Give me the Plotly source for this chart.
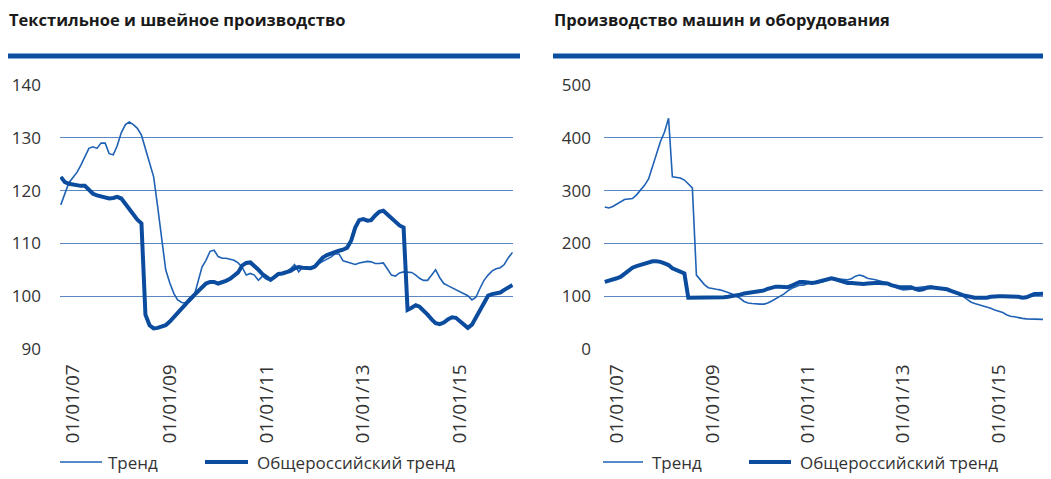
import pandas as pd
import plotly.graph_objects as go

dates = pd.date_range("2006-10-01", periods=113, freq="MS")

textile_trend = [
    117.3, 119.5, 121.5, 122.5, 123.5, 124.8, 126.5, 128.0, 128.3, 128.0,
    129.0, 129.0, 127.0, 126.8, 128.5, 131.0, 132.5, 133.0, 132.5, 131.8,
    130.5, 128.0, 125.0, 122.6, 117.0, 110.5, 105.0, 102.5, 100.5, 99.3,
    98.8, 98.7, 99.0, 99.8, 102.5, 105.5, 106.8, 108.5, 108.7, 107.5,
    107.2, 107.2, 107.0, 106.8, 106.3, 105.5, 104.0, 104.3, 104.0, 103.0,
    103.8, 103.2, 103.0, 103.8, 104.2, 104.4, 104.6, 105.2, 106.0, 104.6,
    105.5, 105.4, 105.3, 105.5, 106.2, 106.6, 107.0, 107.4, 108.0, 108.0,
    106.7, 106.5, 106.2, 106.0, 106.3, 106.5, 106.6, 106.5, 106.2, 106.2,
    106.3, 105.2, 104.0, 103.8, 104.4, 104.6, 104.6, 104.5, 104.0, 103.4,
    103.0, 103.0, 104.0, 105.0, 103.5, 102.4, 102.0, 101.6, 101.2, 100.8,
    100.4, 100.1, 99.3, 99.8, 101.5, 103.0, 104.0, 104.8, 105.2, 105.4,
    106.0, 107.3, 108.3,
]
textile_russia = [
    122.6, 121.6, 121.3, 121.1, 121.0, 120.9, 120.9, 120.2, 119.4, 119.1,
    118.9, 118.6, 118.5, 118.6, 118.8, 118.5, 117.5, 116.3, 115.3, 114.5,
    113.8, 96.5, 94.5, 93.9, 94.0, 94.3, 94.5, 95.2, 96.0, 96.8,
    97.6, 98.5, 99.4, 100.2, 101.0, 101.8, 102.4, 102.7, 102.7, 102.4,
    102.6, 102.9, 103.3, 103.8, 104.5, 105.8, 106.3, 106.4, 105.8, 105.0,
    104.2, 103.6, 103.1, 103.6, 104.2, 104.3, 104.5, 104.8, 105.3, 105.5,
    105.4, 105.3, 105.3, 105.6, 106.6, 107.3, 107.8, 108.1, 108.5, 108.6,
    108.8, 109.2, 110.5, 113.0, 114.4, 114.6, 114.3, 114.4, 115.3, 116.0,
    116.2, 115.5, 114.8, 114.2, 113.4, 113.0, 97.4, 97.8, 98.3, 98.0,
    97.3, 96.5, 95.6, 94.9, 94.7, 95.0, 95.6, 96.0, 95.9, 95.2,
    94.5, 94.0, 94.6, 96.0, 97.4, 99.0, 100.1, 100.4, 100.5, 100.7,
    101.2, 101.7, 102.1,
]
machine_trend = [
    269, 267, 270, 275, 280, 283, 284, 285, 292, 300,
    310, 322, 345, 370, 393, 411, 437, 326, 325, 324,
    320, 313, 305, 140, 130, 122, 116, 114, 113, 112,
    110, 107, 104, 100, 96, 90, 87, 86, 85, 85,
    85, 87, 91, 95, 99, 104, 110, 115, 118, 121,
    121, 124, 125, 125, 126, 128, 131, 133, 133, 132,
    131, 131, 133, 138, 140, 138, 134, 133, 131, 129,
    127, 125, 121, 117, 114, 112, 112, 113, 116, 117,
    118, 119, 119, 117, 116, 114, 112, 111, 108, 105,
    100, 95, 89, 86, 84, 82, 80, 77, 74, 72,
    69, 65, 62, 61, 59, 58, 57, 57, 56, 56,
    56, 55, 55,
]
machine_russia = [
    127, 129, 131, 134, 137, 143, 150, 154, 157, 159,
    161, 163, 166, 166, 165, 162, 159, 153, 149, 146,
    143, 97, 97, 97, 97, 97, 97, 97, 97, 98,
    98, 99, 100, 101, 103, 105, 106, 108, 109, 110,
    111, 114, 117, 118, 118, 117, 117, 120, 124, 127,
    127, 126, 125, 126, 128, 130, 133, 134, 132, 129,
    127, 125, 125, 124, 123, 123, 124, 125, 125, 125,
    125, 124, 121, 118, 117, 117, 117, 117, 114, 112,
    113, 116, 117, 116, 115, 114, 113, 110, 108, 105,
    102, 100, 98, 97, 97, 97, 97, 99, 100, 100,
    100, 100, 100, 100, 99, 97, 98, 101, 104, 104,
    105, 106, 106,
]

titles = ["Текстильное и швейное производство", "Производство машин и оборудования"]
tick_dates = ["2007-01-01", "2009-01-01", "2011-01-01", "2013-01-01", "2015-01-01"]
tick_text = ["01/01/07", "01/01/09", "01/01/11", "01/01/13", "01/01/15"]
legend_names = ["Тренд", "Общероссийский тренд"]

# the page places the figure 8px from the top-left corner of the window
OFF = 8
W, H = 1051 - OFF, 479 - OFF
FONT = "Open Sans"
TXT = "#333333"
THIN = "#1f62b5"
THICK = "#0b4c9e"
GRID = "#5b87c2"


def px(x):
    return (x - OFF) / W


def py(y):
    return 1 - (y - OFF) / H


fig = go.Figure()
fig.add_trace(go.Scatter(x=dates, y=textile_trend, mode="lines", name=legend_names[0],
                         line=dict(color=THIN, width=1.6), xaxis="x", yaxis="y"))
fig.add_trace(go.Scatter(x=dates, y=textile_russia, mode="lines", name=legend_names[1],
                         line=dict(color=THICK, width=4), xaxis="x", yaxis="y"))
fig.add_trace(go.Scatter(x=dates, y=machine_trend, mode="lines", name=legend_names[0],
                         line=dict(color=THIN, width=1.6), xaxis="x2", yaxis="y2"))
fig.add_trace(go.Scatter(x=dates, y=machine_russia, mode="lines", name=legend_names[1],
                         line=dict(color=THICK, width=4), xaxis="x2", yaxis="y2"))

xr = ["2006-09-25", "2016-02-05"]
xcommon = dict(type="date", range=xr, tickvals=tick_dates, ticktext=tick_text, tickangle=-90,
               showgrid=False, zeroline=False, showline=False, ticks="", automargin=False,
               tickfont=dict(family=FONT, size=19, color=TXT), ticklabelstandoff=10)
ycommon = dict(showgrid=True, gridcolor=GRID, gridwidth=1.2, zeroline=False, showline=False,
               ticks="", automargin=False, tickfont=dict(family=FONT, size=17, color=TXT))

ydom = [py(349.5), py(84.5)]

shapes = [
    dict(type="rect", xref="paper", yref="paper", x0=px(8), x1=px(520), y0=py(58.5), y1=py(53.5),
         fillcolor="#0b4ea2", line=dict(width=0)),
    dict(type="rect", xref="paper", yref="paper", x0=px(553), x1=1.0, y0=py(58.5), y1=py(53.5),
         fillcolor="#0b4ea2", line=dict(width=0)),
]
annotations = [
    dict(text="<b>" + titles[0] + "</b>", xref="paper", yref="paper", x=px(7), y=py(20),
         xanchor="left", yanchor="middle", showarrow=False,
         font=dict(family=FONT, size=16.5, color="#1a1a1a")),
    dict(text="<b>" + titles[1] + "</b>", xref="paper", yref="paper", x=px(552), y=py(20),
         xanchor="left", yanchor="middle", showarrow=False,
         font=dict(family=FONT, size=16.5, color="#1a1a1a")),
]

legend_specs = [
    (60, 102, 106, 1.6, THIN, legend_names[0]),
    (205, 248, 255, 4, THICK, legend_names[1]),
    (603, 643, 650, 1.6, THIN, legend_names[0]),
    (749, 791, 798, 4, THICK, legend_names[1]),
]
LY = 462
for x0, x1, tx, w, c, name in legend_specs:
    shapes.append(dict(type="line", xref="paper", yref="paper", x0=px(x0), x1=px(x1),
                       y0=py(LY), y1=py(LY), line=dict(color=c, width=w)))
    annotations.append(dict(text=name, xref="paper", yref="paper", x=px(tx), y=py(LY),
                            xanchor="left", yanchor="middle", showarrow=False,
                            font=dict(family=FONT, size=17, color=TXT)))

fig.update_layout(
    width=W, height=H,
    margin=dict(l=0, r=0, t=0, b=0, pad=0, autoexpand=False),
    paper_bgcolor="white", plot_bgcolor="white",
    showlegend=False,
    xaxis=dict(domain=[px(60), px(513)], anchor="y", **xcommon),
    yaxis=dict(domain=ydom, anchor="x", range=[89.9, 140.1], dtick=10, tick0=90,
               ticklabelstandoff=18, **ycommon),
    xaxis2=dict(domain=[px(604), 1.0], anchor="y2", **xcommon),
    yaxis2=dict(domain=ydom, anchor="x2", range=[-1, 501], dtick=100, tick0=0,
                ticklabelstandoff=12, **ycommon),
    shapes=shapes,
    annotations=annotations,
)

fig.write_html("out.html")
